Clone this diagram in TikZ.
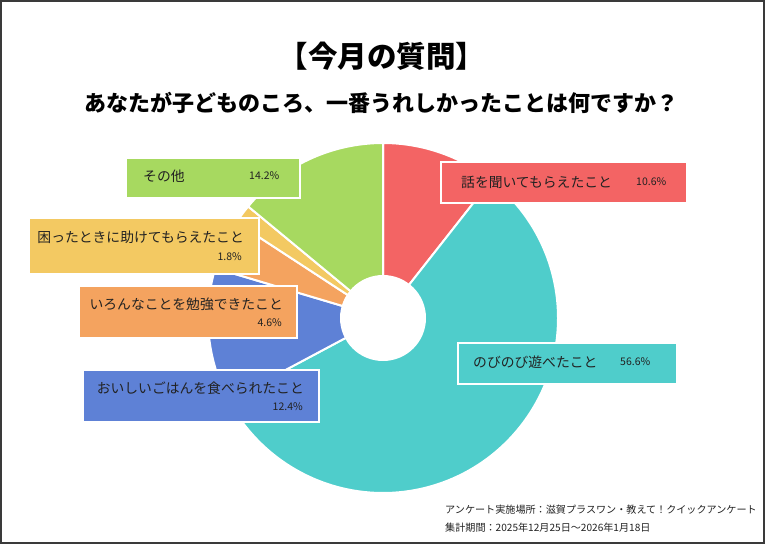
\documentclass[tikz,border=0pt]{standalone}
\usepackage{fontspec}
\setmainfont{Noto Sans CJK JP}
\definecolor{cRed}{HTML}{F36464}
\definecolor{cTeal}{HTML}{4FCDCB}
\definecolor{cBlue}{HTML}{5E81D6}
\definecolor{cOrange}{HTML}{F4A35F}
\definecolor{cYellow}{HTML}{F3C962}
\definecolor{cGreen}{HTML}{A7D960}
\definecolor{cText}{HTML}{222222}
\definecolor{cFrame}{HTML}{3A3A3A}
\tikzset{
  box/.style={draw=white, line width=2pt, minimum width=#1, anchor=north west, inner sep=0pt},
  lbl/.style={text=cText, inner sep=0pt, font=\fontsize{13.8}{15}\selectfont},
  pct/.style={text=cText, inner sep=0pt, font=\fontsize{10.5}{12}\selectfont},
  foot/.style={text=cText, inner sep=0pt, anchor=west, font=\fontsize{10.1}{11}\selectfont},
  sep/.style={draw=white, line width=2pt, line join=round}
}
\newcommand{\myslice}[3]{%
  \fill[#1] (pc) -- ++(#2:175pt) arc[start angle=#2, end angle=#3, radius=175pt] -- cycle;
  \draw[sep] (pc) -- ++(#2:175pt) arc[start angle=#2, end angle=#3, radius=175pt] -- cycle;}
\begin{document}
\begin{tikzpicture}[x=1pt,y=-1pt]
\useasboundingbox (0,0) rectangle (765,544);
\fill[white] (0,0) rectangle (765,544);
\draw[cFrame, line width=2pt] (1,1) rectangle (764,543);
% titles
\node[inner sep=0pt, text=black, font=\bfseries\fontsize{29.5}{31}\selectfont] (title) at (382,56) {【今月の質問】};
\node[inner sep=0pt, text=black, font=\bfseries\fontsize{22}{24}\selectfont] (sub) at (381,103) {あなたが子どものころ、一番うれしかったことは何ですか？};
% pie
\coordinate (pc) at (383,318);
\myslice{cRed}{90}{51.84}
\myslice{cTeal}{51.84}{-151.92}
\myslice{cBlue}{-151.92}{-196.56}
\myslice{cOrange}{-196.56}{-213.12}
\myslice{cYellow}{-213.12}{-219.6}
\myslice{cGreen}{-219.6}{-270}
\fill[white] (pc) circle[radius=43pt];
% label boxes
\node[box=174, minimum height=40, fill=cGreen] (bGreen) at (125,157) {};
\node[lbl, anchor=west] (tGreen) at (143,176) {その他};
\node[pct, anchor=west] (pGreen) at (249,176) {14.2\%};

\node[box=230, minimum height=56, fill=cYellow] (bYellow) at (28,217) {};
\node[lbl, anchor=east] (tYellow) at (244,237) {困ったときに助けてもらえたこと};
\node[pct, anchor=east] (pYellow) at (242,257) {1.8\%};

\node[box=218, minimum height=52, fill=cOrange] (bOrange) at (78,285) {};
\node[lbl, anchor=east] (tOrange) at (283,304) {いろんなことを勉強できたこと};
\node[pct, anchor=east] (pOrange) at (282,323) {4.6\%};

\node[box=236, minimum height=52, fill=cBlue] (bBlue) at (82,369) {};
\node[lbl, anchor=east] (tBlue) at (304,388) {おいしいごはんを食べられたこと};
\node[pct, anchor=east] (pBlue) at (303,407) {12.4\%};

\node[box=246, minimum height=41, fill=cRed] (bRed) at (440,161) {};
\node[lbl, anchor=west] (tRed) at (461,182) {話を聞いてもらえたこと};
\node[pct, anchor=west] (pRed) at (636,182) {10.6\%};

\node[box=219, minimum height=41, fill=cTeal] (bTeal) at (457,342) {};
\node[lbl, anchor=west] (tTeal) at (473,362) {のびのび遊べたこと};
\node[pct, anchor=west] (pTeal) at (620,362) {56.6\%};
% footer
\node[foot] (f1) at (445,510) {アンケート実施場所：滋賀プラスワン・教えて！クイックアンケート};
\node[foot] (f2) at (445,528) {集計期間：2025年12月25日～2026年1月18日};
\end{tikzpicture}
\end{document}
